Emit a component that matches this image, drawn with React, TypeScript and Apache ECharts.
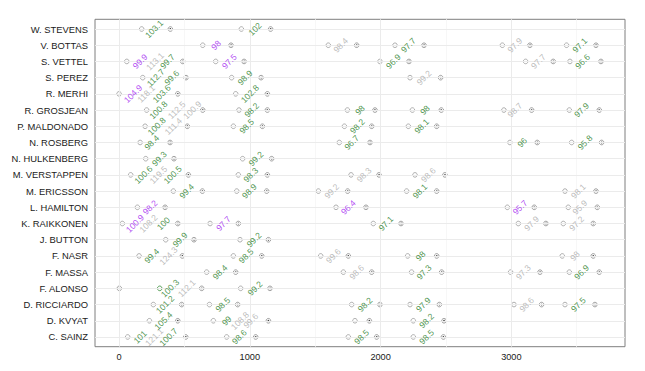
import React, { useEffect, useRef } from "react";
import * as echarts from "echarts";

const drivers = [
  "W. STEVENS", "V. BOTTAS", "S. VETTEL", "S. PEREZ", "R. MERHI",
  "R. GROSJEAN", "P. MALDONADO", "N. ROSBERG", "N. HULKENBERG", "M. VERSTAPPEN",
  "M. ERICSSON", "L. HAMILTON", "K. RAIKKONEN", "J. BUTTON", "F. NASR",
  "F. MASSA", "F. ALONSO", "D. RICCIARDO", "D. KVYAT", "C. SAINZ",
];

// run start times (open circles), per driver
const runStarts: number[][] = [
  [173, 935],
  [640, 1600, 2110, 2931, 3422],
  [59, 739, 1995, 3109, 3448],
  [181, 861, 2225],
  [0, 892],
  [211, 917, 1746, 2243, 2943, 3443],
  [199, 874, 1723, 2212],
  [161, 1684, 2989, 3461],
  [204, 945],
  [89, 912, 1774, 2263],
  [415, 900, 1524, 2199, 3410],
  [140, 1659, 2969, 3435],
  [25, 696, 1944, 3053, 3397],
  [357, 925],
  [153, 874, 1542, 2207, 3389],
  [670, 1715, 2237, 2994, 3443],
  [930],
  [262, 691, 1779, 2225, 3020, 3410],
  [232, 721, 1804, 2250],
  [66, 823, 1753, 2250],
];

// run end times (dotted circles), per driver
const runEnds: number[][] = [
  [392, 1159],
  [856, 1817, 2332, 3142, 3647],
  [487, 956, 2217, 3320, 3685],
  [512, 1086, 2459],
  [449, 1134],
  [640, 1134, 1957, 2464, 3155, 3672],
  [522, 1096, 1932, 2429],
  [390, 1919, 3198, 3690],
  [420, 1167],
  [530, 1134, 1988, 2492],
  [637, 1129, 1748, 2429, 3647],
  [352, 1888, 3175, 3657],
  [449, 912, 2156, 3264, 3626],
  [573, 1142],
  [484, 1091, 1753, 2429, 3626],
  [892, 1932, 2467, 3219, 3672],
  [2, 632, 1154],
  [479, 907, 1995, 2449, 3231, 3639],
  [449, 1142, 1914, 2485],
  [510, 1045, 1970, 2480],
];

// Alonso's first run start, marked in green
const greenStartDriver = 16;
const greenStartX = 311;

// lap label positions, texts and kinds (g = personal best, n = normal, p = overall best)
const lapX: number[][] = [
  [268, 1040],
  [742, 1695, 2212, 3027, 3524],
  [161, 275, 370, 843, 2097, 3206, 3545],
  [280, 403, 963, 2332],
  [107, 207, 326, 1001],
  [301, 441, 560, 1014, 1842, 2339, 3027, 3537],
  [288, 415, 976, 1822, 2314],
  [250, 1779, 3083, 3563],
  [308, 1047],
  [186, 301, 410, 1007, 1873, 2365],
  [517, 996, 1626, 2301, 3512],
  [237, 1753, 3066, 3524],
  [122, 224, 339, 798, 2041, 3155, 3499],
  [466, 1032],
  [250, 377, 971, 1639, 2306, 3486],
  [772, 1817, 2332, 3091, 3537],
  [390, 517, 1040],
  [352, 793, 1881, 2327, 3117, 3512],
  [339, 823, 925, 1007, 2352],
  [161, 268, 377, 920, 1855, 2352],
];

const lapTime: string[][] = [
  ["103.1", "102"],
  ["98", "98.4", "97.7", "97.9", "97.1"],
  ["99.9", "113.1", "99.7", "97.5", "96.9", "97.7", "96.6"],
  ["112.7", "99.6", "98.9", "99.2"],
  ["104.9", "118.1", "103.6", "102.8"],
  ["100.8", "112.5", "100.9", "98.2", "98", "98", "98.7", "97.9"],
  ["100.8", "111.4", "98.5", "98.2", "98.1"],
  ["98.4", "96.7", "96", "95.8"],
  ["99.3", "99.2"],
  ["100.6", "119.5", "100.5", "98.3", "98.3", "98.6"],
  ["99.4", "98.9", "99.2", "98.1", "98.1"],
  ["98.2", "96.4", "95.7", "95.9"],
  ["100.9", "108.2", "100", "97.7", "97.1", "97.9", "97.2"],
  ["99.9", "99.2"],
  ["99.4", "124.3", "98.5", "99.6", "98", "98"],
  ["98.4", "98.6", "97.3", "97.3", "96.9"],
  ["100.3", "112.1", "99.2"],
  ["101.2", "98.5", "98.2", "97.9", "98.6", "97.5"],
  ["105.4", "99", "108.8", "99.6", "98.2"],
  ["101", "121.1", "100.7", "98.6", "98.5", "98.5"],
];

const lapKind: string[][] = [
  ["g", "g"],
  ["p", "n", "g", "n", "g"],
  ["p", "n", "g", "p", "g", "n", "g"],
  ["g", "g", "g", "n"],
  ["p", "n", "g", "g"],
  ["g", "n", "n", "g", "g", "g", "n", "g"],
  ["g", "n", "g", "g", "g"],
  ["g", "g", "g", "g"],
  ["g", "g"],
  ["g", "n", "g", "g", "n", "n"],
  ["g", "g", "n", "g", "n"],
  ["p", "p", "p", "n"],
  ["p", "n", "g", "p", "g", "n", "n"],
  ["g", "g"],
  ["g", "n", "g", "n", "g", "n"],
  ["g", "n", "g", "n", "g"],
  ["g", "n", "g"],
  ["g", "g", "g", "g", "n", "g"],
  ["g", "g", "n", "n", "g"],
  ["g", "n", "g", "g", "g", "g"],
];

const xTicks = [0, 1000, 2000, 3000];
const xMinor = [500, 1500, 2500, 3500];

const FONT = "Liberation Sans, Arial, Helvetica, sans-serif";
const kindColor: Record<string, string> = { g: "#1b7a1b", n: "#ababab", p: "#a020f0" };

export default function App() {
  const ref = useRef<HTMLDivElement>(null);

  useEffect(() => {
    if (!ref.current) return;
    const chart = echarts.init(ref.current, undefined, { renderer: "svg" });
    const idx = drivers.map((_, i) => i);

    const startData: number[][] = [];
    const endData: number[][] = [];
    runStarts.forEach((arr, i) => arr.forEach((x) => startData.push([x, i])));
    runEnds.forEach((arr, i) => arr.forEach((x) => endData.push([x, i])));

    const labelSeries = ["n", "g", "p"].map((k) => {
      const data: any[] = [];
      lapX.forEach((arr, i) =>
        arr.forEach((x, j) => {
          if (lapKind[i][j] === k) data.push({ value: [x, i], name: lapTime[i][j] });
        })
      );
      return {
        type: "scatter",
        z: 5,
        silent: true,
        symbolSize: 1,
        itemStyle: { color: "rgba(0,0,0,0)" },
        data,
        label: {
          show: true,
          position: "inside",
          formatter: "{b}",
          rotate: 45,
          align: "center",
          verticalAlign: "middle",
          fontSize: 8.6,
          fontFamily: FONT,
          color: kindColor[k],
        },
      };
    });

    const gridLines = [
      ...xMinor.map((v) => ({ xAxis: v, lineStyle: { color: "#f7f7f7", width: 1, type: "solid" } })),
      ...xTicks.map((v) => ({ xAxis: v, lineStyle: { color: "#ebebeb", width: 1, type: "solid" } })),
      ...idx.map((v) => ({ yAxis: v, lineStyle: { color: "#ebebeb", width: 1, type: "solid" } })),
    ];

    const ringStyle = { color: "rgba(0,0,0,0)", borderWidth: 0.9 };

    chart.setOption({
      animation: false,
      backgroundColor: "#ffffff",
      grid: {
        left: 95,
        right: 20,
        top: 19.3,
        bottom: 24.3,
        show: true,
        borderColor: "#7f7f7f",
        borderWidth: 1,
        backgroundColor: "#ffffff",
      },
      xAxis: {
        type: "value",
        min: -184,
        max: 3869,
        axisLine: { show: false },
        axisTick: { show: true, length: 4, lineStyle: { color: "#555" }, customValues: xTicks },
        axisLabel: {
          customValues: xTicks,
          formatter: (v: number) => String(v),
          fontSize: 9.2,
          color: "#1a1a1a",
          margin: 6,
          fontFamily: FONT,
        },
        splitLine: { show: false },
      },
      yAxis: {
        type: "value",
        inverse: true,
        min: -0.6,
        max: 19.6,
        axisLine: { show: false },
        axisTick: { show: true, length: 4.5, lineStyle: { color: "#555" }, customValues: idx },
        axisLabel: {
          customValues: idx,
          formatter: (v: number) => drivers[Math.round(v)] ?? "",
          fontSize: 9.4,
          color: "#1a1a1a",
          margin: 7,
          fontFamily: FONT,
        },
        splitLine: { show: false },
      },
      series: [
        {
          type: "scatter",
          z: 1,
          silent: true,
          data: [],
          markLine: {
            silent: true,
            symbol: ["none", "none"],
            label: { show: false },
            data: gridLines,
          },
        },
        {
          type: "scatter",
          z: 2,
          silent: true,
          symbol: "circle",
          symbolSize: 4.6,
          itemStyle: { ...ringStyle, borderColor: "#909090" },
          data: startData,
        },
        {
          type: "scatter",
          z: 2,
          silent: true,
          symbol: "circle",
          symbolSize: 4.6,
          itemStyle: { ...ringStyle, borderColor: "#1b7a1b" },
          data: [[greenStartX, greenStartDriver]],
        },
        {
          type: "scatter",
          z: 2,
          silent: true,
          symbol: "circle",
          symbolSize: 4.6,
          itemStyle: { ...ringStyle, borderColor: "#7a7a7a" },
          data: endData,
        },
        {
          type: "scatter",
          z: 3,
          silent: true,
          symbol: "circle",
          symbolSize: 1.6,
          itemStyle: { color: "#111" },
          data: endData,
        },
        ...labelSeries,
      ],
    } as any);

    return () => chart.dispose();
  }, []);

  return (
    <div
      ref={ref}
      style={{ position: "fixed", left: 0, top: 0, width: 645, height: 371, background: "#fff" }}
    />
  );
}
